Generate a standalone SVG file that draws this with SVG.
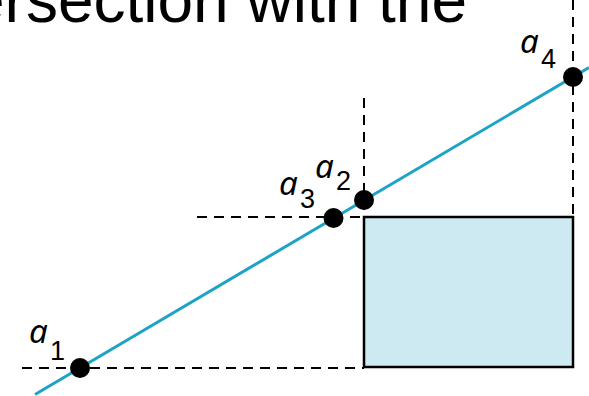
<svg xmlns="http://www.w3.org/2000/svg" width="589" height="396" viewBox="0 0 589 396">
<style>
.dash{stroke:#000;stroke-width:2;stroke-dasharray:10 7;fill:none}
.dot{fill:#000}
.lbl{font-family:"Noto Sans","Liberation Sans",sans-serif;font-style:italic;font-size:33px;fill:#000}
.sub{font-family:"Liberation Sans",sans-serif;font-size:27px;fill:#000}
.title{font-family:"Liberation Sans",Arial,sans-serif;font-size:64px;fill:#000}
</style>
<rect width="589" height="396" fill="#fff"/>
<text class="title" x="-31" y="22">ersection with the</text>
<g id="box">
<rect x="364" y="217" width="209" height="150" fill="#cdeaf2" stroke="#000" stroke-width="2.5"/>
</g>
<g id="connectors">
<line class="dash" x1="22" y1="368" x2="364" y2="368"/>
<line class="dash" x1="197" y1="217" x2="364" y2="217"/>
<line class="dash" x1="364" y1="98" x2="364" y2="217"/>
<line class="dash" x1="573" y1="0" x2="573" y2="217"/>
<line x1="35" y1="394.5" x2="589" y2="67.5" stroke="#1ca3c6" stroke-width="3"/>
</g>
<g id="a1"><circle class="dot" cx="80" cy="368" r="10"/><text class="lbl" x="29" y="343">a</text><text class="sub" x="50" y="360">1</text></g>
<g id="a3"><circle class="dot" cx="333.5" cy="218" r="10"/><text class="lbl" x="279" y="195">a</text><text class="sub" x="300" y="208">3</text></g>
<g id="a2"><circle class="dot" cx="364" cy="200" r="10"/><text class="lbl" x="315" y="178">a</text><text class="sub" x="336" y="190">2</text></g>
<g id="a4"><circle class="dot" cx="573" cy="77" r="10"/><text class="lbl" x="520" y="53">a</text><text class="sub" x="541" y="68">4</text></g>
</svg>
